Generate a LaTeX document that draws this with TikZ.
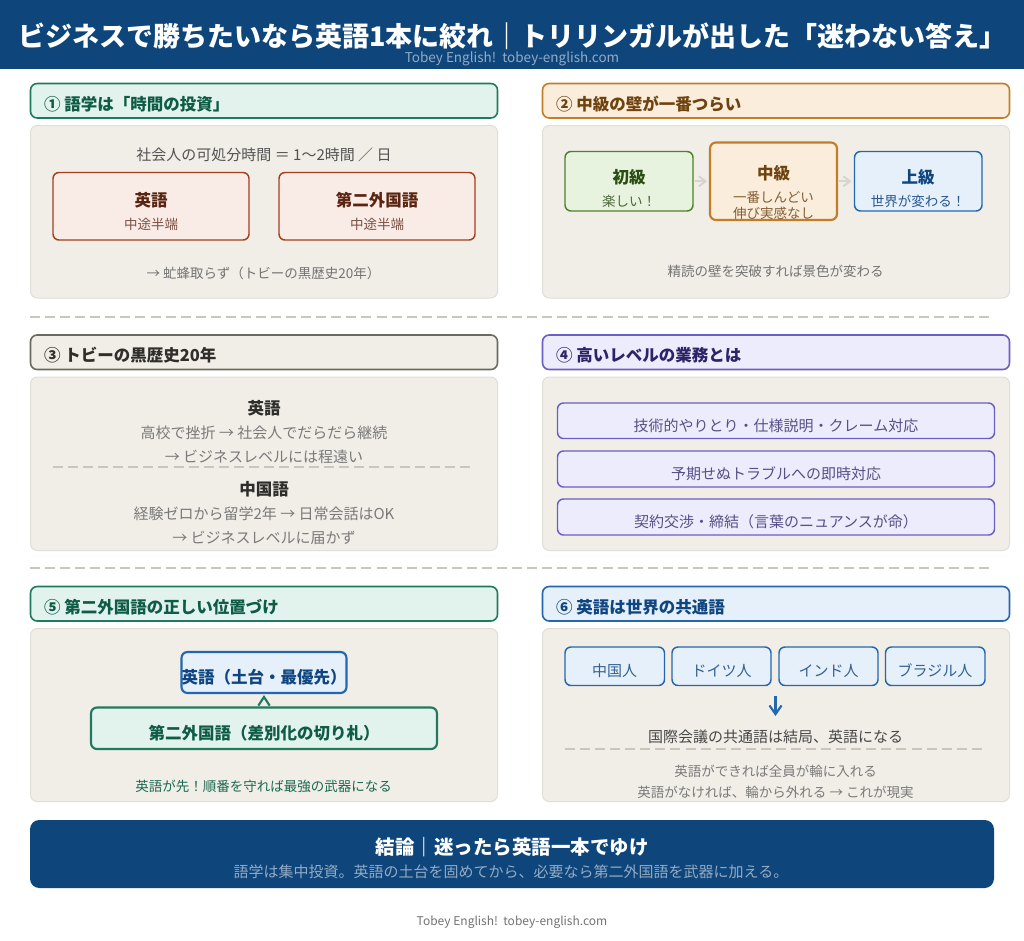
\documentclass[tikz,border=0pt]{standalone}
\usepackage{fontspec}
\setmainfont{Noto Sans CJK JP}
\usetikzlibrary{arrows.meta}
\newcommand\fs[1]{\fontsize{\fpeval{#1*0.75}pt}{\fpeval{#1*0.9}pt}\selectfont}
\definecolor{navy}{HTML}{0E457B}
\definecolor{panelfill}{HTML}{F1EEE8}
\definecolor{panelline}{HTML}{E2DFD8}
\definecolor{dashc}{HTML}{C9C6BD}
\definecolor{softc}{HTML}{D6D4CC}
\definecolor{gfill}{HTML}{E1F3EC}\definecolor{gline}{HTML}{1F7A5F}\definecolor{gtext}{HTML}{0F5C46}
\definecolor{ofill}{HTML}{FAEDDB}\definecolor{oline}{HTML}{C17D2A}\definecolor{otext}{HTML}{6F4310}
\definecolor{kfill}{HTML}{F1EEE7}\definecolor{kline}{HTML}{6B6A60}\definecolor{ktext}{HTML}{2F2E2A}
\definecolor{pfill}{HTML}{EDECFC}\definecolor{pline}{HTML}{6A5FC4}\definecolor{ptext}{HTML}{2B2468}
\definecolor{bfill}{HTML}{E5F0FA}\definecolor{bline}{HTML}{2467AE}\definecolor{btext}{HTML}{0F4580}
\definecolor{rfill}{HTML}{F9ECE7}\definecolor{rline}{HTML}{A33E1F}\definecolor{rtext}{HTML}{5A2410}
\definecolor{lfill}{HTML}{E8F3DF}\definecolor{lline}{HTML}{4C8228}\definecolor{ltext}{HTML}{2A4D12}
\tikzset{
  px/.style={x=0.75pt,y=-0.75pt},
  boxbase/.style={rectangle,rounded corners=5pt,inner sep=0pt,outer sep=0pt},
  panelbox/.style={boxbase,fill=panelfill,draw=panelline,line width=0.75pt},
  head/.style={boxbase,fill=#1fill,draw=#1line,line width=1.2pt},
  card/.style={boxbase,rounded corners=4.5pt,fill=#1fill,draw=#1line,line width=1.1pt},
  heavycard/.style={card=#1,line width=1.6pt},
  txt/.style={inner sep=0pt,outer sep=0pt,anchor=base},
  htxt/.style={inner sep=0pt,outer sep=0pt,anchor=base west,font=\fs{16.5}\bfseries},
  divider/.style={dashc,line width=1.1pt,dash pattern=on 7.5pt off 3.8pt},
  softarrow/.style={draw=softc,line width=1.4pt,-{Straight Barb[length=5pt,width=7.5pt]},shorten >=2.2pt,shorten <=1.5pt},
}
\newcommand\rbox[6]{\node[#2,minimum width={(#5-#3)*0.75pt},minimum height={(#6-#4)*0.75pt}] (#1) at ({(#3+#5)/2},{(#4+#6)/2}) {};}
\begin{document}
\begin{tikzpicture}[px]
\useasboundingbox (0,0) rectangle (1024,940);
\fill[white] (0,0) rectangle (1024,940);
% banner
\fill[navy] (0,0) rectangle (1024,68.5);
\node[txt,white,font=\fs{27}\bfseries] (title) at (512.5,46) {ビジネスで勝ちたいなら英語1本に絞れ｜トリリンガルが出した「迷わない答え」};
\node[txt,text=navy!45!white,font=\fs{13.5}] (wm) at (512,62.5) {Tobey English!\ \ tobey-english.com};
% panels
\rbox{h1}{head=g}{30.5}{83.5}{497.5}{118}
\rbox{p1}{panelbox}{30.5}{125.5}{497.5}{298}
\rbox{h2}{head=o}{542.5}{83.5}{1009.5}{118}
\rbox{p2}{panelbox}{542.5}{125.5}{1009.5}{298}
\rbox{h3}{head=k}{30.5}{335}{497.5}{369.5}
\rbox{p3}{panelbox}{30.5}{377}{497.5}{550.5}
\rbox{h4}{head=p}{542.5}{335}{1009.5}{369.5}
\rbox{p4}{panelbox}{542.5}{377}{1009.5}{550.5}
\rbox{h5}{head=g}{30.5}{586.5}{497.5}{621}
\rbox{p5}{panelbox}{30.5}{628.5}{497.5}{801.5}
\rbox{h6}{head=b}{542.5}{586.5}{1009.5}{621}
\rbox{p6}{panelbox}{542.5}{628.5}{1009.5}{801.5}
% headings
\node[htxt,gtext] (t1) at (44,110) {① 語学は「時間の投資」};
\node[htxt,otext] (t2) at (556,110) {② 中級の壁が一番つらい};
\node[htxt,ktext] (t3) at (44,361.5) {③ トビーの黒歴史20年};
\node[htxt,ptext] (t4) at (556,361.5) {④ 高いレベルの業務とは};
\node[htxt,gtext] (t5) at (44,613) {⑤ 第二外国語の正しい位置づけ};
\node[htxt,btext] (t6) at (556,613) {⑥ 英語は世界の共通語};
% separators
\coordinate (s1a) at (30,317); \coordinate (s1b) at (990,317);
\coordinate (s2a) at (30,568); \coordinate (s2b) at (990,568);
\draw[divider] (s1a) -- (s1b);
\draw[divider] (s2a) -- (s2b);
% panel 1
\node[txt,text=black!68,font=\fs{15}] (a0) at (264,160) {社会人の可処分時間 ＝ 1〜2時間 ／ 日};
\rbox{a1}{card=r}{53}{172.5}{249}{240}
\rbox{a2}{card=r}{279}{172.5}{475}{240}
\node[txt,rtext,font=\fs{16.5}\bfseries] (a1t) at (151,206) {英語};
\node[txt,text=rtext!80!white,font=\fs{13.5}] (a1s) at (151,229) {中途半端};
\node[txt,rtext,font=\fs{16.5}\bfseries] (a2t) at (377,206) {第二外国語};
\node[txt,text=rtext!80!white,font=\fs{13.5}] (a2s) at (377,229) {中途半端};
\node[txt,text=black!55,font=\fs{13.5}] (a3) at (263.5,278) {→ 虻蜂取らず（トビーの黒歴史20年）};
% panel 2
\rbox{b1}{card=l}{565}{151.5}{693}{211}
\rbox{b2}{heavycard=o}{710}{142.5}{837}{220}
\rbox{b3}{card=b}{854.5}{151.5}{982}{211}
\draw[softarrow] (b1) -- (b2);
\draw[softarrow] (b2) -- (b3);
\node[txt,ltext,font=\fs{16.5}\bfseries] (b1t) at (629,183.5) {初級};
\node[txt,text=ltext!85!white,font=\fs{13.5}] (b1s) at (629,206) {楽しい！};
\node[txt,otext,font=\fs{16.5}\bfseries] (b2t) at (773.5,179.5) {中級};
\node[txt,text=otext!85!white,font=\fs{13.5}] (b2s) at (773.5,202) {一番しんどい};
\node[txt,text=otext!85!white,font=\fs{13.5}] (b2u) at (773.5,218) {伸び実感なし};
\node[txt,btext,font=\fs{16.5}\bfseries] (b3t) at (918,183.5) {上級};
\node[txt,text=btext!90!white,font=\fs{13.5}] (b3s) at (918,206) {世界が変わる！};
\node[txt,text=black!55,font=\fs{13.5}] (b4) at (775.5,276) {精読の壁を突破すれば景色が変わる};
% panel 3
\node[txt,ktext,font=\fs{16.5}\bfseries] (c1) at (264,414) {英語};
\node[txt,text=black!52,font=\fs{15}] (c2) at (264,438.5) {高校で挫折 → 社会人でだらだら継続};
\node[txt,text=black!52,font=\fs{15}] (c3) at (264,462.5) {→ ビジネスレベルには程遠い};
\coordinate (c4a) at (53,467); \coordinate (c4b) at (470,467);
\draw[divider] (c4a) -- (c4b);
\node[txt,ktext,font=\fs{16.5}\bfseries] (c5) at (264,495.5) {中国語};
\node[txt,text=black!52,font=\fs{15}] (c6) at (264,519.5) {経験ゼロから留学2年 → 日常会話はOK};
\node[txt,text=black!52,font=\fs{15}] (c7) at (264,543.5) {→ ビジネスレベルに届かず};
% panel 4
\rbox{d1}{card=p}{557.5}{403}{994.5}{438.5}
\rbox{d2}{card=p}{557.5}{451}{994.5}{487}
\rbox{d3}{card=p}{557.5}{499}{994.5}{535}
\node[txt,text=ptext!80!white,font=\fs{15}] (d1t) at (776,431) {技術的やりとり・仕様説明・クレーム対応};
\node[txt,text=ptext!80!white,font=\fs{15}] (d2t) at (776,479) {予期せぬトラブルへの即時対応};
\node[txt,text=ptext!80!white,font=\fs{15}] (d3t) at (776,527) {契約交渉・締結（言葉のニュアンスが命）};
% panel 5
\rbox{e1}{heavycard=b}{181.5}{652}{346.5}{693}
\rbox{e2}{heavycard=g}{91}{707.5}{437}{749}
\draw[gline,line width=1.6pt,-{Straight Barb[length=6.5pt,width=8.5pt]},shorten >=1.5pt,shorten <=7pt] (e2.north -| e1.south) -- (e1.south);
\node[txt,btext,font=\fs{16.5}\bfseries] (e1t) at (264,683) {英語（土台・最優先）};
\node[txt,gtext,font=\fs{16.5}\bfseries] (e2t) at (264,739) {第二外国語（差別化の切り札）};
\node[txt,text=gline!85!black,font=\fs{13.5}] (e3) at (263.5,791) {英語が先！順番を守れば最強の武器になる};
% panel 6
\rbox{f1}{card=b}{565}{647}{664.5}{685.5}
\rbox{f2}{card=b}{672}{647}{771}{685.5}
\rbox{f3}{card=b}{779}{647}{878}{685.5}
\rbox{f4}{card=b}{885.5}{647}{985}{685.5}
\node[txt,text=btext!85!white,font=\fs{15}] (f1t) at (614.5,676) {中国人};
\node[txt,text=btext!85!white,font=\fs{15}] (f2t) at (721.5,676) {ドイツ人};
\node[txt,text=btext!85!white,font=\fs{15}] (f3t) at (828.5,676) {インド人};
\node[txt,text=btext!85!white,font=\fs{15}] (f4t) at (935,676) {ブラジル人};
\coordinate (fa) at (775.5,696); \coordinate (fb) at (775.5,716);
\draw[bline,line width=1.6pt,-{Straight Barb[length=6.5pt,width=9pt]}] (fa) -- (fb);
\node[txt,text=black!72,font=\fs{15}] (f5) at (775.5,742.5) {国際会議の共通語は結局、英語になる};
\coordinate (f6a) at (565,749); \coordinate (f6b) at (982,749);
\draw[divider] (f6a) -- (f6b);
\node[txt,text=black!52,font=\fs{13.5}] (f7) at (775.5,776) {英語ができれば全員が輪に入れる};
\node[txt,text=black!52,font=\fs{13.5}] (f8) at (775.5,797) {英語がなければ、輪から外れる → これが現実};
% conclusion
\rbox{g}{boxbase,rounded corners=7pt,fill=navy}{30}{820}{994}{888}
\node[txt,white,font=\fs{19.5}\bfseries] (g1) at (512,854.5) {結論｜迷ったら英語一本でゆけ};
\node[txt,text=navy!45!white,font=\fs{15}] (g2) at (511,877.5) {語学は集中投資。英語の土台を固めてから、必要なら第二外国語を武器に加える。};
\node[txt,text=black!55,font=\fs{12}] (foot) at (512,925.5) {Tobey English!\ \ tobey-english.com};
\end{tikzpicture}
\end{document}
